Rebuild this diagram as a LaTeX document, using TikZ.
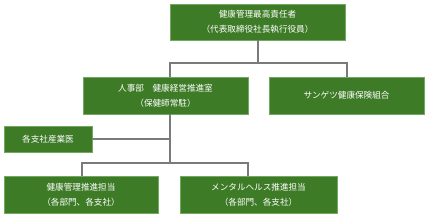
\documentclass[tikz,border=0pt]{standalone}
\usepackage{fontspec}
\setmainfont{Noto Sans CJK JP}
\definecolor{boxfill}{HTML}{3E7B27}
\definecolor{boxline}{HTML}{72A860}
\definecolor{conn}{HTML}{7A7A7A}
\begin{document}
\begin{tikzpicture}[x=1pt,y=-1pt,
  box/.style={draw=boxline, line width=0.8pt, fill=boxfill, text=white, align=center,
    font=\fontsize{8.6pt}{15pt}\selectfont, inner sep=0pt},
  conline/.style={draw=conn, line width=1.3pt}]
\useasboundingbox (0,0) rectangle (427,216);
\node[box, minimum width=175, minimum height=36] (top) at (257.5,22) {健康管理最高責任者\\（代表取締役社長執行役員）};
\node[box, minimum width=165, minimum height=37] (midl) at (165.5,95.5) {人事部　健康経営推進室\\（保健師常駐）};
\node[box, minimum width=155, minimum height=37] (midr) at (346.5,95.5) {サンゲツ健康保険組合};
\node[box, minimum width=88, minimum height=26] (ind) at (48,139) {各支社産業医};
\node[box, minimum width=154, minimum height=37] (botl) at (81,194.5) {健康管理推進担当\\（各部門、各支社）};
\node[box, minimum width=157, minimum height=37] (botr) at (258.5,194.5) {メンタルヘルス推進担当\\（各部門、各支社）};
\coordinate (j1) at (258,63);
\coordinate (j2) at (170,163);
\draw[conline] ([xshift=0.5]top.south) -- (j1);
\draw[conline] ([xshift=4.5]midl.north) |- (j1) -| ([xshift=0.5]midr.north);
\draw[conline] ([xshift=4.5]midl.south) -- (j2);
\draw[conline] (ind.east) -- (ind.east -| j2);
\draw[conline] ([xshift=1]botl.north) |- (j2) -| ([xshift=-10.5]botr.north);
\end{tikzpicture}
\end{document}
